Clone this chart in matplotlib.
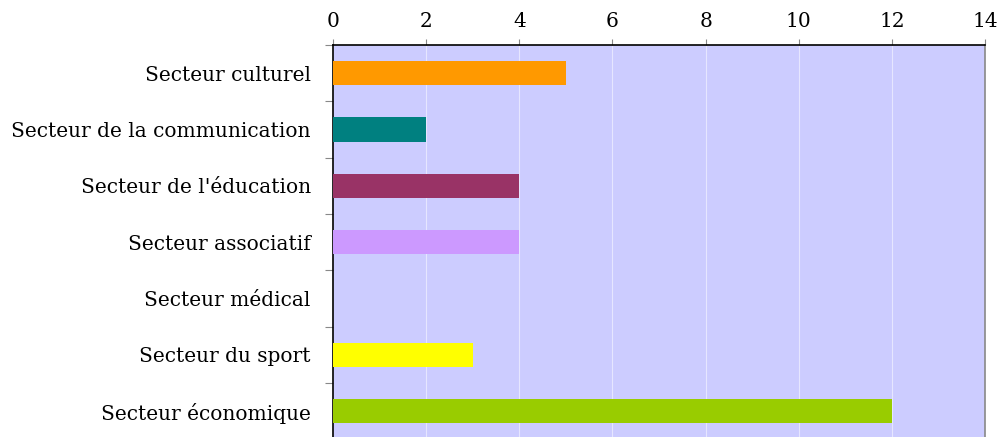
import matplotlib.pyplot as plt
from matplotlib.ticker import MultipleLocator

categories = ["Secteur culturel", "Secteur de la communication", "Secteur de l'éducation",
              "Secteur associatif", "Secteur médical", "Secteur du sport", "Secteur économique"]
values = [5, 2, 4, 4, 0, 3, 12]
colors = ["#ff9900", "#008080", "#993366", "#cc99ff", "#ccccff", "#ffff00", "#99cc00"]

plt.rcParams["font.family"] = ["DejaVu Serif"]

fig = plt.figure(figsize=(9.98, 4.37), dpi=100)
ax = fig.add_axes([0.3337, -0.005, 0.6533, 0.902])
ax.set_facecolor("#ccccff")

pos = list(range(len(categories)))
ax.barh(pos, values, height=0.43, color=colors, zorder=3)

ax.set_xlim(0, 14)
ax.set_ylim(len(categories) - 0.5, -0.5)
ax.xaxis.set_major_locator(MultipleLocator(2))
ax.xaxis.tick_top()
ax.grid(axis="x", color="#e6e6ff", linewidth=0.8, zorder=1)

ax.set_yticks(pos)
ax.set_yticklabels(categories)
ax.set_yticks([p - 0.5 for p in pos], minor=True)
ax.tick_params(axis="y", which="major", length=0, pad=16, labelsize=14.5)
ax.tick_params(axis="y", which="minor", length=6, color="#888888", width=0.8)
ax.tick_params(axis="x", length=4, color="#888888", width=0.8, pad=6, labelsize=14.5)

ax.spines["left"].set_color("black")
ax.spines["left"].set_linewidth(1.2)
ax.spines["top"].set_color("black")
ax.spines["top"].set_linewidth(1.2)
ax.spines["right"].set_color("#888888")
ax.spines["right"].set_linewidth(1.2)
ax.spines["bottom"].set_visible(False)

fig.savefig("out.png", dpi=100)
